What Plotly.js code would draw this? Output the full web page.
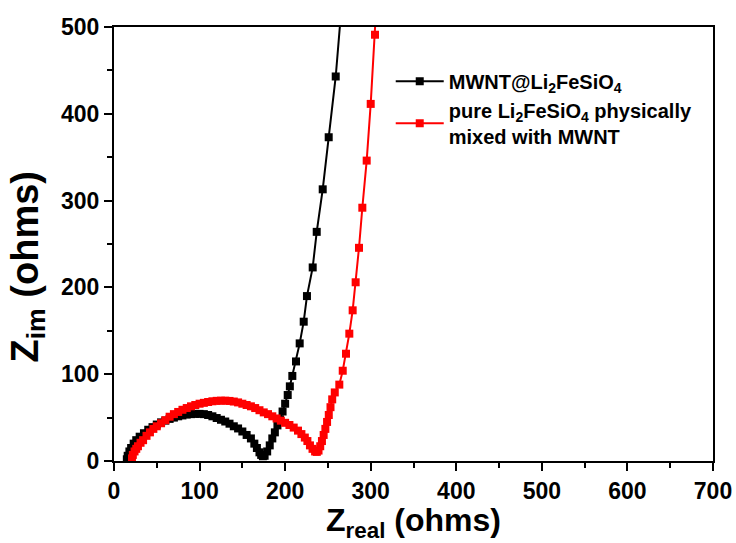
<!DOCTYPE html>
<html>
<head>
<meta charset="utf-8">
<script src="https://cdn.plot.ly/plotly-3.0.1.min.js"></script>
<style>html,body{margin:0;padding:0;background:#fff;}#chart{width:736px;height:543px;}</style>
</head>
<body>
<div id="chart"></div>
<script>
// MWNT@Li2FeSiO4 (black)
const blackX = [15,16,18,20,23,26,30,35,40,45,50,55,60,65,70,75,80,85,90,95,100,105,110,115,120,125,130,135,140,145,150,155,160,164,167,170,172,174,176,179,182,185,188,191,194,197,200,203,205.5,208.4,212.7,217,221.7,225.5,232.2,236.9,243.9,250.9,259.1,266];
const blackY = [2,6,11,15,20,24,28,32,36,39,42,44.5,46.5,48.5,50,51.5,52.5,53.5,54,54.3,54.3,54,53,51.5,49.5,47.5,45.5,43,40,37.5,34,30,26,20,15,10,7,5.5,6,11,18,26,33,41,48,57,66,76,86,98,114.7,135.5,160.5,190,223,264,313,373,443,525];
// pure Li2FeSiO4 physically mixed with MWNT (red)
const redX = [21,22,24,26,28,31,34,38,42,46,50,55,60,65,70,75,80,85,90,95,100,105,110,115,120,125,130,135,140,145,150,155,160,165,170,175,180,185,190,195,200,205,210,215,219,223,226,229,232,235,237,239,241,243,245,247,249,251,253,255,258,263.3,267.3,271.1,275.0,278.9,282.4,286.3,290.2,295.3,300.0,305.0,310];
const redY = [3,7,11,14,17,21,24,29,33,37,40,43.5,47,51,54,56.5,59,61,63,64.5,66,67,68,68.8,69.3,69.5,69.5,69.2,68.5,67.5,66,64.5,63,61,58.5,56,54,51.5,49,46.5,44,41.5,38.5,35,31,27,23,18,14,11,10.5,12,17,23,30,37,45,53,62,71,79,88,104,123.6,146.7,173.6,205.9,245.6,291.8,346.1,411.4,491.1,585];

const nameBlack = 'MWNT@Li<sub>2</sub>FeSiO<sub>4</sub>';
const nameRed = 'pure Li<sub>2</sub>FeSiO<sub>4</sub> physically<br>mixed with MWNT';
const xTitle = 'Z<sub>real</sub> (ohms)';
const yTitle = 'Z<sub>im</sub> (ohms)';

const fontFam = '"Liberation Sans", Arial, sans-serif';

const traces = [
  {x: blackX, y: blackY, name: nameBlack, type: 'scatter', mode: 'lines+markers', legendgroup: 'a',
   line: {color: '#000000', width: 2}, marker: {symbol: 'square', size: 8, color: '#000000'}},
  {x: redX, y: redY, name: nameRed, type: 'scatter', mode: 'lines+markers', legendgroup: 'b',
   line: {color: '#ff0000', width: 2}, marker: {symbol: 'square', size: 8, color: '#ff0000'}}
];

const axisCommon = {
  showline: true, linewidth: 2, linecolor: '#000', mirror: true,
  showgrid: false, zeroline: false,
  ticks: 'outside', ticklen: 8, tickwidth: 2, tickcolor: '#000',
  tickfont: {family: fontFam, size: 23, color: '#000', weight: 'bold'},
  minor: {ticks: 'outside', ticklen: 5, tickwidth: 2, tickcolor: '#000'}
};

const layout = {
  width: 736, height: 543,
  margin: {l: 114, r: 23, t: 27, b: 82},
  paper_bgcolor: '#fff', plot_bgcolor: '#fff',
  showlegend: true,
  legend: {x: 0.462, y: 0.92, xanchor: 'left', yanchor: 'top', bgcolor: 'rgba(0,0,0,0)',
           itemwidth: 48,
           font: {family: fontFam, size: 20, color: '#000', weight: 'bold'}, tracegroupgap: 0},
  xaxis: Object.assign({}, axisCommon, {
    range: [0, 700], dtick: 100, tick0: 0,
    minor: Object.assign({}, axisCommon.minor, {dtick: 50}),
    title: {text: xTitle, font: {family: fontFam, size: 32, color: '#000', weight: 'bold'}, standoff: 4}
  }),
  yaxis: Object.assign({}, axisCommon, {
    range: [0, 500], dtick: 100, tick0: 0,
    minor: Object.assign({}, axisCommon.minor, {dtick: 50})
  }),
  annotations: [
    {text: yTitle, xref: 'paper', yref: 'paper', x: -0.1444, y: 0.447, xanchor: 'center', yanchor: 'middle',
     textangle: -90, showarrow: false,
     font: {family: fontFam, size: 38, color: '#000', weight: 'bold'}}
  ]
};

Plotly.newPlot('chart', traces, layout, {staticPlot: true, displayModeBar: false});
</script>
</body>
</html>
